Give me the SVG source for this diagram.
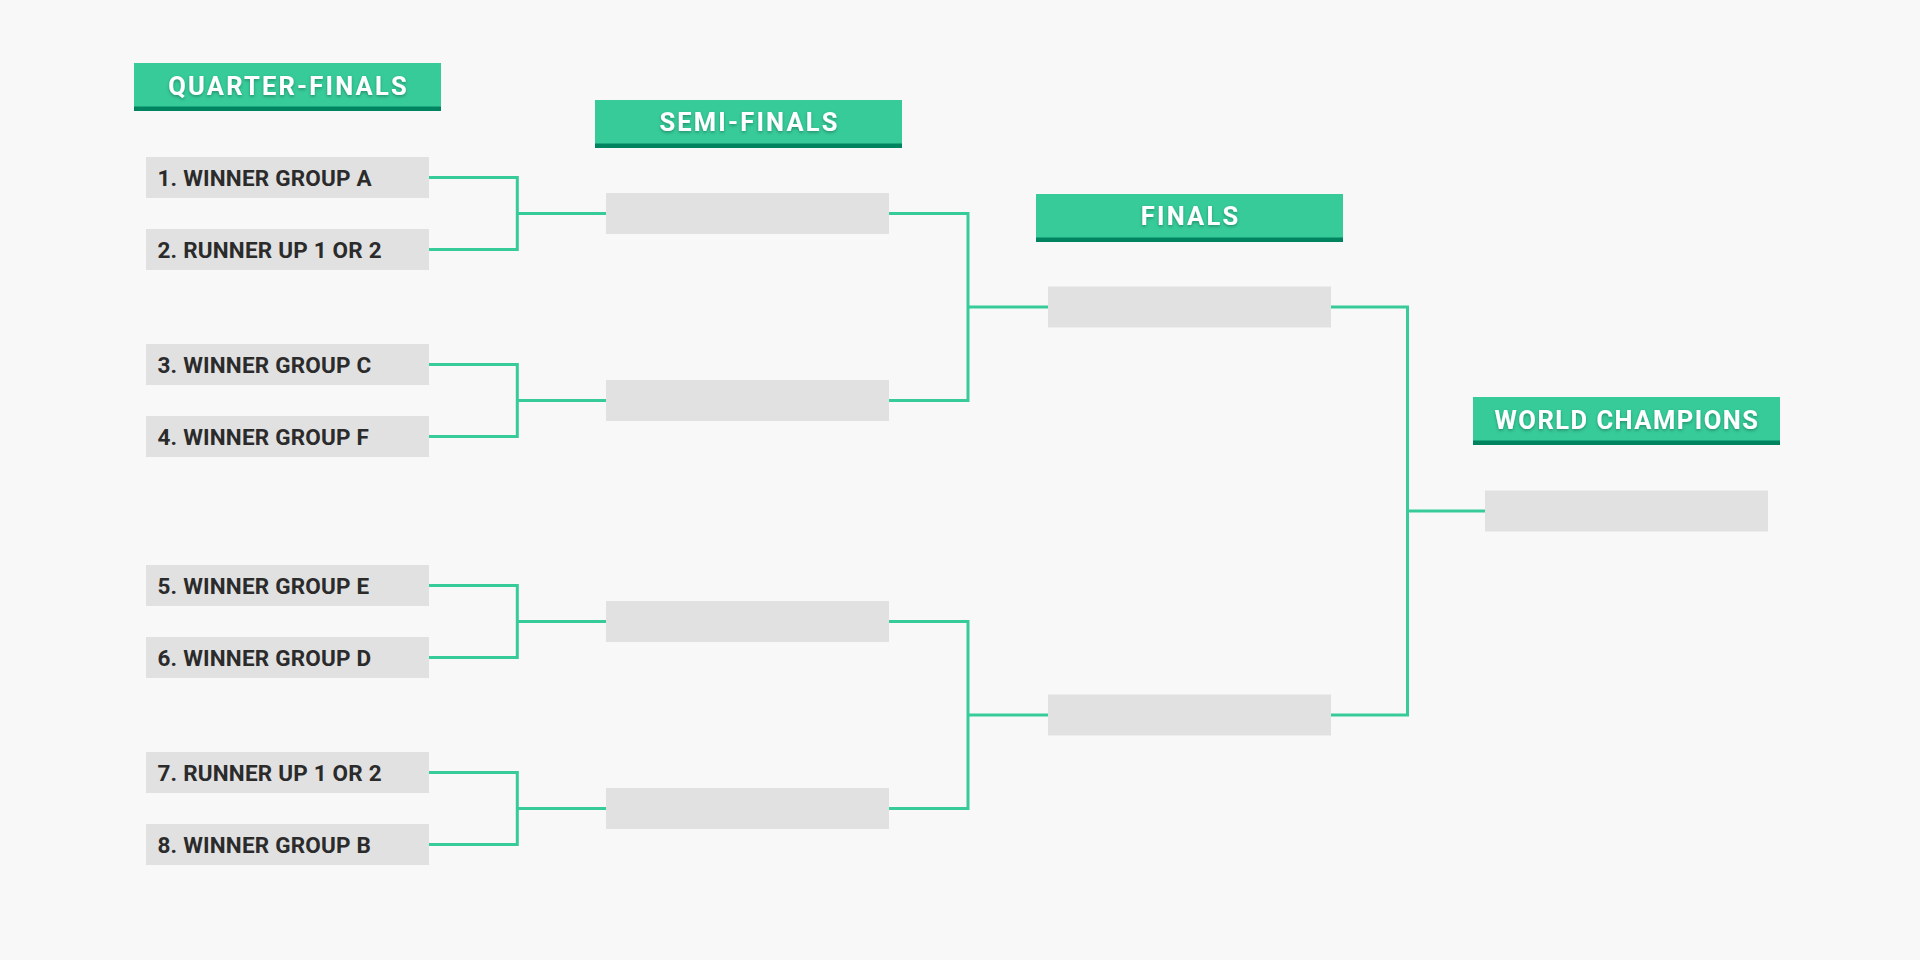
<svg xmlns="http://www.w3.org/2000/svg" width="1920" height="960" viewBox="0 0 1920 960">
<defs>
<filter id="ts" x="-10%" y="-30%" width="120%" height="160%">
<feDropShadow dx="0" dy="1.5" stdDeviation="1.5" flood-color="#000" flood-opacity="0.3"/>
</filter>
</defs>
<style>
.hdr{fill:#36cb98}
.hdrb{fill:#00845f}
.htxt{font-family:Roboto,"Liberation Sans",sans-serif;font-weight:700;font-size:25.5px;letter-spacing:2.2px;fill:#ffffff;text-anchor:middle}
.box{fill:#e1e1e1}
.btxt{font-family:Roboto,"Liberation Sans",sans-serif;font-weight:700;font-size:22.5px;letter-spacing:0.2px;fill:#2b2b2b}
.con{fill:none;stroke:#36cb98;stroke-width:3}
</style>
<rect width="1920" height="960" fill="#f8f8f8"/>

<g id="connectors">
<path class="con" d="M429 177.5H517.3V249.5H429M517.3 213.5H606"/>
<path class="con" d="M429 364.5H517.3V436.5H429M517.3 400.5H606"/>
<path class="con" d="M429 585.5H517.3V657.5H429M517.3 621.5H606"/>
<path class="con" d="M429 772.5H517.3V844.5H429M517.3 808.5H606"/>
<path class="con" d="M889 213.5H968V400.5H889M968 307H1048"/>
<path class="con" d="M889 621.5H968V808.5H889M968 715H1048"/>
<path class="con" d="M1331 307H1407.5V715H1331M1407.5 511H1485"/>
</g>

<g id="header-quarter-finals">
<rect class="hdr" x="134" y="63" width="307" height="48"/>
<rect class="hdrb" x="134" y="106.5" width="307" height="4.5"/>
<text class="htxt" x="288.6" y="95" filter="url(#ts)">QUARTER-FINALS</text>
</g>
<g id="header-semi-finals">
<rect class="hdr" x="595" y="100" width="307" height="48"/>
<rect class="hdrb" x="595" y="143.5" width="307" height="4.5"/>
<text class="htxt" x="749.6" y="131" filter="url(#ts)">SEMI-FINALS</text>
</g>
<g id="header-finals">
<rect class="hdr" x="1036" y="194" width="307" height="48"/>
<rect class="hdrb" x="1036" y="237.5" width="307" height="4.5"/>
<text class="htxt" x="1190.6" y="225" filter="url(#ts)">FINALS</text>
</g>
<g id="header-world-champions">
<rect class="hdr" x="1473" y="397" width="307" height="48"/>
<rect class="hdrb" x="1473" y="440.5" width="307" height="4.5"/>
<text class="htxt" x="1627" y="429" filter="url(#ts)" style="letter-spacing:1.5px">WORLD CHAMPIONS</text>
</g>

<g id="qf1"><rect class="box" x="146" y="157" width="283" height="41"/><text class="btxt" x="157.5" y="185.7">1. WINNER GROUP A</text></g>
<g id="qf2"><rect class="box" x="146" y="229" width="283" height="41"/><text class="btxt" x="157.5" y="257.7">2. RUNNER UP 1 OR 2</text></g>
<g id="qf3"><rect class="box" x="146" y="344" width="283" height="41"/><text class="btxt" x="157.5" y="372.7">3. WINNER GROUP C</text></g>
<g id="qf4"><rect class="box" x="146" y="416" width="283" height="41"/><text class="btxt" x="157.5" y="444.7">4. WINNER GROUP F</text></g>
<g id="qf5"><rect class="box" x="146" y="565" width="283" height="41"/><text class="btxt" x="157.5" y="593.7">5. WINNER GROUP E</text></g>
<g id="qf6"><rect class="box" x="146" y="637" width="283" height="41"/><text class="btxt" x="157.5" y="665.7">6. WINNER GROUP D</text></g>
<g id="qf7"><rect class="box" x="146" y="752" width="283" height="41"/><text class="btxt" x="157.5" y="780.7">7. RUNNER UP 1 OR 2</text></g>
<g id="qf8"><rect class="box" x="146" y="824" width="283" height="41"/><text class="btxt" x="157.5" y="852.7">8. WINNER GROUP B</text></g>

<g id="sf1"><rect class="box" x="606" y="193" width="283" height="41"/></g>
<g id="sf2"><rect class="box" x="606" y="380" width="283" height="41"/></g>
<g id="sf3"><rect class="box" x="606" y="601" width="283" height="41"/></g>
<g id="sf4"><rect class="box" x="606" y="788" width="283" height="41"/></g>

<g id="f1"><rect class="box" x="1048" y="286.5" width="283" height="41"/></g>
<g id="f2"><rect class="box" x="1048" y="694.5" width="283" height="41"/></g>

<g id="champion"><rect class="box" x="1485" y="490.5" width="283" height="41"/></g>
</svg>
